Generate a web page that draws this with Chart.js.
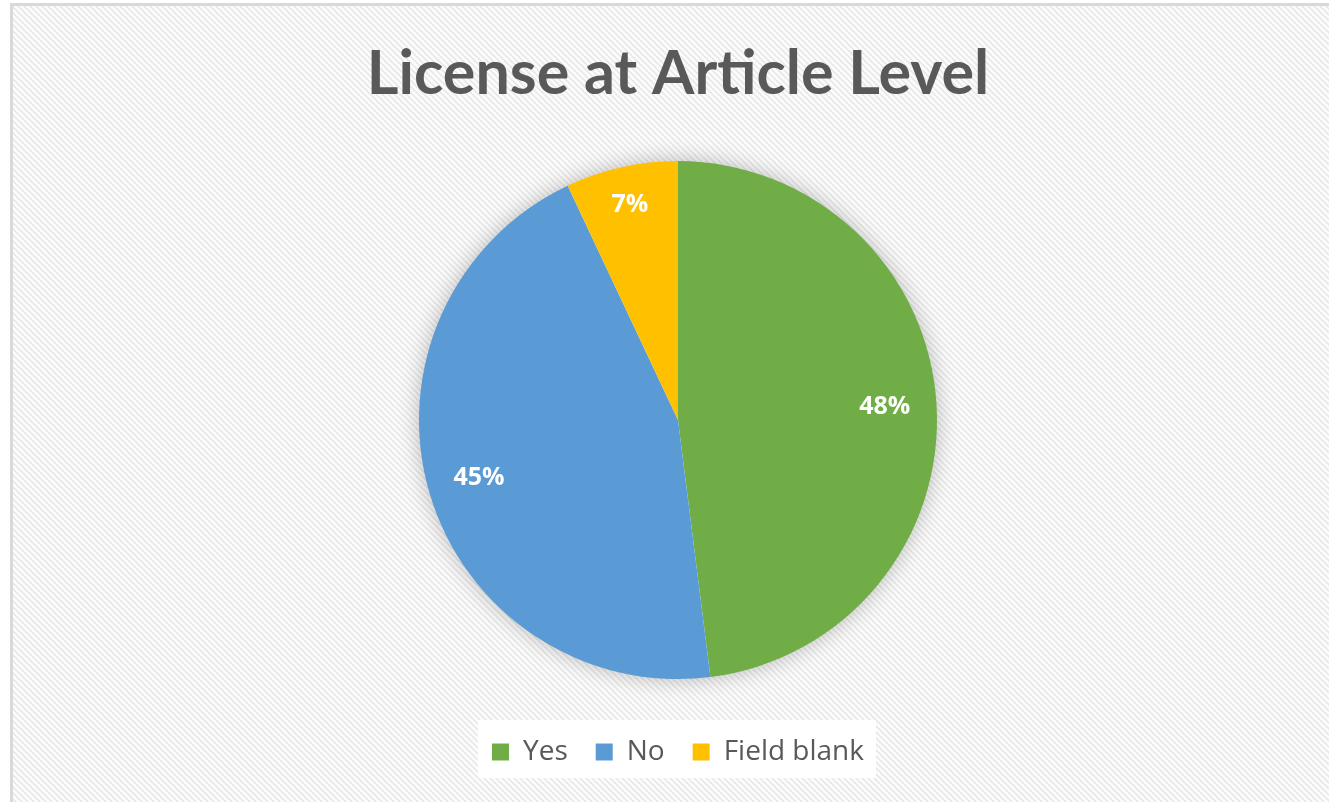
<!DOCTYPE html>
<html>
<head>
<meta charset="utf-8">
<script src="https://cdn.jsdelivr.net/npm/chart.js@4.4.0/dist/chart.umd.min.js"></script>
<style>
  html, body { margin: 0; padding: 0; background: #ffffff; }
  #wrap { width: 1329px; height: 802px; position: relative; }
</style>
</head>
<body>
<div id="wrap"><canvas id="c" width="1329" height="802"></canvas></div>
<script>
const categories = ['Yes', 'No', 'Field blank'];
const values = [48, 45, 7];
const sliceColors = ['#70AD47', '#5B9BD5', '#FFC000'];
const chartTitle = 'License at Article Level';

function makePattern(ctx) {
  const p = document.createElement('canvas');
  p.width = 6; p.height = 6;
  const g = p.getContext('2d');
  g.fillStyle = '#fcfcfc';
  g.fillRect(0, 0, 6, 6);
  g.strokeStyle = '#e8e8e8';
  g.lineWidth = 1.6;
  g.beginPath();
  g.moveTo(-1, -1); g.lineTo(7, 7);
  g.moveTo(-4, 2); g.lineTo(2, 8);
  g.moveTo(2, -4); g.lineTo(8, 2);
  g.stroke();
  return ctx.createPattern(p, 'repeat');
}

const backgroundPlugin = {
  id: 'bg',
  beforeDraw(chart) {
    const ctx = chart.ctx;
    ctx.save();
    ctx.fillStyle = '#ffffff';
    ctx.fillRect(0, 0, chart.width, chart.height);
    ctx.fillStyle = makePattern(ctx);
    ctx.fillRect(12, 5, chart.width - 12, chart.height - 5);
    ctx.strokeStyle = '#d9d9d9';
    ctx.lineWidth = 3;
    ctx.beginPath();
    ctx.moveTo(11.5, chart.height);
    ctx.lineTo(11.5, 4.5);
    ctx.lineTo(chart.width, 4.5);
    ctx.stroke();
    // legend white box
    const lg = chart.legend;
    if (lg && lg.legendHitBoxes && lg.legendHitBoxes.length) {
      const hb = lg.legendHitBoxes;
      let minX = Infinity, maxX = -Infinity, minY = Infinity, maxY = -Infinity;
      hb.forEach(b => { minX = Math.min(minX, b.left); maxX = Math.max(maxX, b.left + b.width); minY = Math.min(minY, b.top); maxY = Math.max(maxY, b.top + b.height); });
      ctx.fillStyle = '#ffffff';
      ctx.fillRect(minX - 14, minY - 18, (maxX - minX) + 26, (maxY - minY) + 30);
    }
    ctx.restore();
  },
  beforeDatasetsDraw(chart) {
    const arc = chart.getDatasetMeta(0).data[0];
    if (!arc) return;
    const ctx = chart.ctx;
    ctx.save();
    ctx.shadowColor = 'rgba(0,0,0,0.28)';
    ctx.shadowBlur = 22;
    ctx.fillStyle = '#ffffff';
    ctx.beginPath();
    ctx.arc(arc.x, arc.y, arc.outerRadius - 1, 0, Math.PI * 2);
    ctx.fill();
    ctx.restore();
  }
};

const labelPlugin = {
  id: 'sliceLabels',
  afterDatasetsDraw(chart) {
    const ctx = chart.ctx;
    const meta = chart.getDatasetMeta(0);
    const total = values.reduce((a, b) => a + b, 0);
    ctx.save();
    ctx.fillStyle = '#ffffff';
    ctx.font = 'bold 25px "Open Sans", sans-serif';
    ctx.textAlign = 'center';
    ctx.textBaseline = 'middle';
    meta.data.forEach((arc, i) => {
      const mid = (arc.startAngle + arc.endAngle) / 2;
      const frac = values[i] / total < 0.1 ? 0.85 : 0.8;
      const r = arc.outerRadius * frac;
      const x = arc.x + Math.cos(mid) * r;
      const y = arc.y + Math.sin(mid) * r;
      ctx.fillText(Math.round(values[i] / total * 100) + '%', x, y);
    });
    ctx.restore();
  }
};

new Chart(document.getElementById('c'), {
  type: 'pie',
  data: {
    labels: categories,
    datasets: [{
      data: values,
      backgroundColor: sliceColors,
      borderWidth: 0,
      radius: 259
    }]
  },
  options: {
    responsive: false,
    animation: false,
    layout: { padding: { top: 0, bottom: 26, left: 27, right: 0 } },
    plugins: {
      title: {
        display: true,
        text: chartTitle,
        color: '#595959',
        font: { family: 'Lato', weight: 'bold', size: 61 },
        padding: { top: 38, bottom: 19 }
      },
      legend: {
        display: true,
        position: 'bottom',
        labels: {
          color: '#595959',
          font: { family: '"Open Sans"', size: 28 },
          boxWidth: 17,
          boxHeight: 17,
          padding: 28
        }
      },
      tooltip: { enabled: false }
    }
  },
  plugins: [backgroundPlugin, labelPlugin]
});
</script>
</body>
</html>
